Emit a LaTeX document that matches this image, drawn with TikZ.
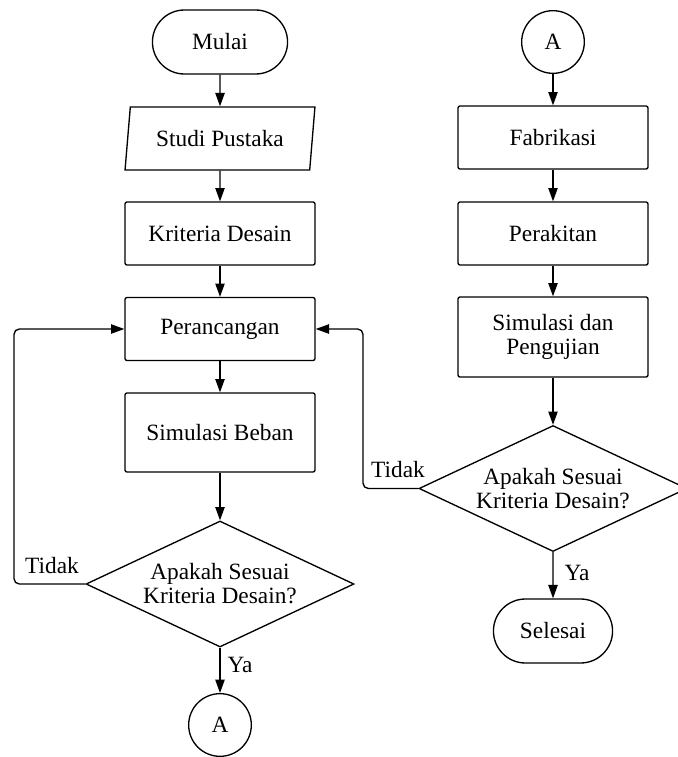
\documentclass[tikz,border=0pt]{standalone}
\usepackage{fontspec}
\setmainfont{Liberation Serif}
\usetikzlibrary{arrows.meta,shapes.geometric,shapes.misc}

\begin{document}
\begin{tikzpicture}[x=0.75pt, y=-0.75pt, >={Triangle[length=10pt,width=7pt]},
  every node/.style={font=\fontsize{17.5}{18}\selectfont},
  flow/.style={->, line width=1pt},
  proc/.style={draw, line width=1pt, rectangle, rounded corners=1.5pt, minimum width=142.5pt, minimum height=47.25pt, align=center},
  term/.style={draw, line width=1pt, rounded rectangle, minimum width=108pt, minimum height=48pt},
  io/.style={draw, line width=1pt, trapezium, trapezium left angle=81, trapezium right angle=99, trapezium stretches=true, minimum width=142.5pt, minimum height=47.25pt},
  decision/.style={draw, line width=1pt, diamond, aspect=2.13, inner sep=0pt, minimum width=201pt, minimum height=94.5pt, align=center},
  conn/.style={draw, line width=1pt, circle, minimum size=47pt, inner sep=0pt}]
\useasboundingbox (0,0) rectangle (678,757);
% Left column
\node [term] (mulai) at (220,42) {Mulai};
\node [io] (studi) at (220,138.5) {Studi Pustaka};
\node [proc] (kriteria) at (220,233.5) {Kriteria Desain};
\node [proc] (rancang) at (220,329) {Perancangan};
\node [proc, minimum height=59.25pt] (simbeban) at (220,432.5) {Simulasi Beban};
\node [decision] (cekA) at (220,584) {Apakah Sesuai\\Kriteria Desain?};
\node [conn] (keA) at (220,725) {A};
\draw [flow] (mulai) -- (studi);
\draw [flow] (studi) -- (kriteria);
\draw [flow] (kriteria) -- (rancang);
\draw [flow] (rancang) -- (simbeban);
\draw [flow] (simbeban) -- (cekA);
\draw [flow] (cekA) -- (keA);
\node (yaA) at (240,665) {Ya};
% Left loop back to Perancangan
\coordinate (balikA) at (14,329);
\draw [flow, rounded corners=4pt] (cekA.west) -| (balikA) -- (rancang.west);
\node (tidakA) at (52,566) {Tidak};
% Right column
\node [conn] (dariA) at (553,42) {A};
\node [proc] (fabrik) at (553,137.5) {Fabrikasi};
\node [proc] (rakit) at (553,233.5) {Perakitan};
\node [proc, minimum height=60pt] (uji) at (553,337) {Simulasi dan\\Pengujian};
\node [decision] (cekB) at (553,488.5) {Apakah Sesuai\\Kriteria Desain?};
\node [term, minimum width=96pt] (selesai) at (553,631) {Selesai};
\draw [flow] (dariA) -- (fabrik);
\draw [flow] (fabrik) -- (rakit);
\draw [flow] (rakit) -- (uji);
\draw [flow] (uji) -- (cekB);
\draw [flow] (cekB) -- (selesai);
\node (yaB) at (577,573) {Ya};
% Right loop back to Perancangan
\coordinate (balikB) at (363,329);
\draw [flow, rounded corners=4pt] (cekB.west) -| (balikB) -- (rancang.east);
\node (tidakB) at (398,470) {Tidak};
\end{tikzpicture}
\end{document}
